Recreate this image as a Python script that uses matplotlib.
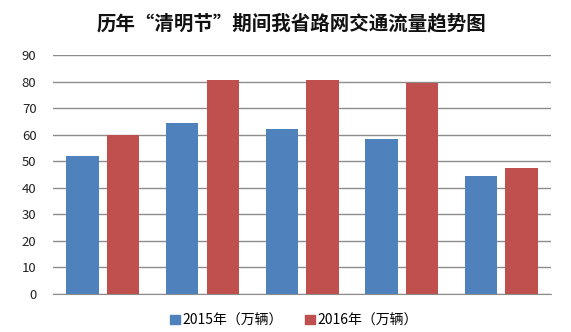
import numpy as np
import matplotlib
matplotlib.use("Agg")
import matplotlib.pyplot as plt
from matplotlib.patches import Patch

plt.rcParams['font.family'] = ['Noto Sans CJK SC', 'DejaVu Sans']

title = '历年“清明节”期间我省路网交通流量趋势图'
series_names = ['2015年（万辆）', '2016年（万辆）']
vals_2015 = [52, 64.3, 62, 58.2, 44.5]
vals_2016 = [60, 80.6, 80.6, 79.3, 47.3]
colors = ['#4F81BD', '#C0504D']

fig = plt.figure(figsize=(5.71, 3.32), dpi=100)
ax = fig.add_axes([0.093, 0.1145, 0.872, 0.72])

x = np.arange(len(vals_2015))
w = 0.326
ax.bar(x - 0.204, vals_2015, w, color=colors[0], zorder=3)
ax.bar(x + 0.204, vals_2016, w, color=colors[1], zorder=3)

ax.set_xlim(-0.5, len(x) - 0.5)
ax.set_ylim(0, 90)
ax.set_yticks(range(0, 91, 10))
ax.set_xticks([])
ax.grid(axis='y', color='#8c8c8c', linewidth=1, zorder=0)
for s in ['top', 'right', 'left']:
    ax.spines[s].set_visible(False)
ax.spines['bottom'].set_color('#8c8c8c')
ax.tick_params(axis='y', length=0, pad=12, labelsize=9.5, labelcolor='#222222')

fig.text(0.51, 0.93, title, ha='center', va='center', fontsize=14,
         fontweight='bold', color='#111111')

handles = [Patch(color=c) for c in colors]
fig.legend(handles, series_names, loc='center', bbox_to_anchor=(0.515, 0.035),
           ncol=2, frameon=False, fontsize=10, handlelength=0.7,
           handleheight=0.7, handletextpad=0.2, columnspacing=1.6)

fig.savefig('out.png', dpi=100)
